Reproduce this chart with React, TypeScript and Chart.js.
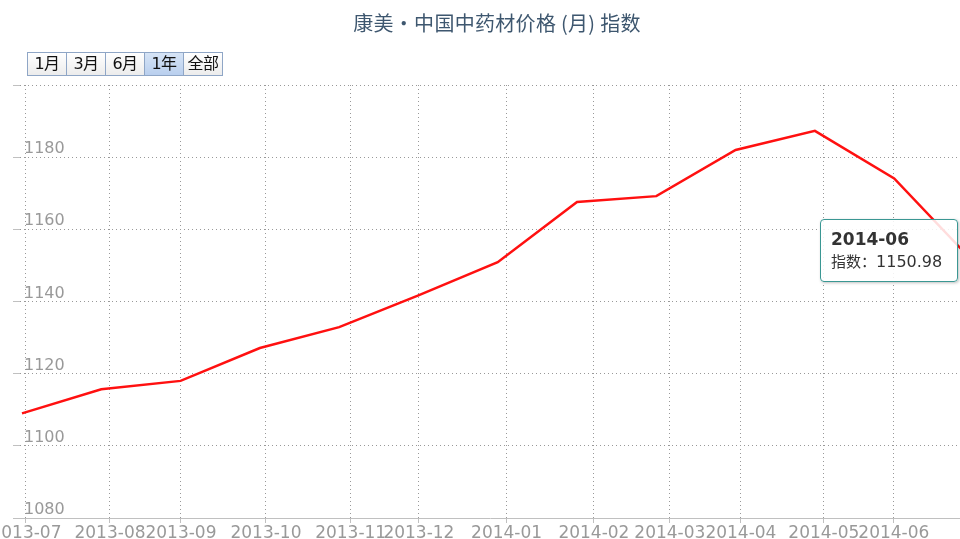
import React, { useEffect, useRef } from 'react';
import { Chart, registerables } from 'chart.js';

Chart.register(...registerables);

// ---- data ----
const title = '康美·中国中药材价格 (月) 指数';
const seriesName = '指数';
const pointIndex = [0, 1, 2, 3, 4, 5, 6, 7, 8, 9, 10, 11, 12];
const indexValues = [1109.0, 1115.7, 1118.0, 1127.1, 1132.9, 1141.7, 1150.9, 1167.6, 1169.2, 1182.0, 1187.3, 1174.1, 1150.98];
const monthTickPositions = [0.05, 1.11, 2.005, 3.077, 4.145, 5.006, 6.112, 7.213, 8.171, 9.067, 10.113, 10.996];
const monthTickLabels = ['2013-07', '2013-08', '2013-09', '2013-10', '2013-11', '2013-12', '2014-01', '2014-02', '2014-03', '2014-04', '2014-05', '2014-06'];
const yTicks = [1080, 1100, 1120, 1140, 1160, 1180, 1200];
const rangeButtons = ['1月', '3月', '6月', '1年', '全部'];
const selectedRange = '1年';
const tooltipDate = '2014-06';
const tooltipValue = '1150.98';

export default function App() {
  const canvasRef = useRef<HTMLCanvasElement | null>(null);

  useEffect(() => {
    document.body.style.margin = '0';
    const canvas = canvasRef.current;
    if (!canvas) return;
    const chart = new Chart(canvas, {
      type: 'line',
      data: {
        datasets: [
          {
            label: seriesName,
            data: pointIndex.map((x, i) => ({ x, y: indexValues[i] })),
            borderColor: '#ff1010',
            borderWidth: 2.5,
            pointRadius: 0,
            tension: 0,
            fill: false,
          },
        ],
      },
      options: {
        animation: false,
        responsive: false,
        events: [],
        layout: { padding: { top: 85, left: 13, right: 0, bottom: 0 } },
        plugins: {
          legend: { display: false },
          tooltip: { enabled: false },
          title: { display: false },
        },
        scales: {
          x: {
            type: 'linear',
            min: -0.025,
            max: 11.83,
            afterBuildTicks: (scale: any) => {
              scale.ticks = monthTickPositions.map((v) => ({ value: v }));
            },
            afterFit: (scale: any) => {
              scale.height = 21;
              scale.paddingLeft = 0;
              scale.paddingRight = 0;
            },
            grid: {
              color: '#999999',
              lineWidth: 1,
              tickLength: 5,
              tickColor: '#c0c0c0',
              tickBorderDash: [],
              drawTicks: true,
            },
            border: { display: true, color: '#c0c0c0', width: 1, dash: [1, 3] },
            ticks: {
              autoSkip: false,
              maxRotation: 0,
              minRotation: 0,
              padding: 0,
              color: '#999999',
              font: { family: 'DejaVu Sans', size: 17 },
              callback: (_v: any, i: number) => monthTickLabels[i],
            },
          },
          y: {
            type: 'linear',
            min: yTicks[0],
            max: yTicks[yTicks.length - 1],
            afterBuildTicks: (scale: any) => {
              scale.ticks = yTicks.map((v) => ({ value: v }));
            },
            afterFit: (scale: any) => {
              scale.width = 7;
              scale.paddingTop = 0;
              scale.paddingBottom = 0;
            },
            grid: {
              color: '#999999',
              lineWidth: 1,
              tickLength: 7,
              tickColor: '#c0c0c0',
              tickBorderDash: [],
            },
            border: { display: false, dash: [1, 3] },
            ticks: {
              mirror: true,
              padding: 4,
              labelOffset: -8,
              color: '#999999',
              font: { family: 'DejaVu Sans', size: 16 },
              callback: (v: any) => (v === yTicks[yTicks.length - 1] ? '' : String(v)),
            },
          },
        },
      },
    });
    return () => chart.destroy();
  }, []);

  return (
    <div style={{ position: 'absolute', left: 0, top: 0, width: 960, height: 539, overflow: 'hidden', background: '#fff' }}>
      <canvas ref={canvasRef} width={960} height={539} style={{ position: 'absolute', left: 0, top: 0, width: 960, height: 539 }} />
      <div
        style={{
          position: 'absolute',
          left: 0,
          top: 11,
          width: 994,
          textAlign: 'center',
          fontFamily: '"Noto Sans CJK SC", "DejaVu Sans", sans-serif',
          fontSize: 20,
          lineHeight: '24px',
          color: '#3E576F',
          whiteSpace: 'nowrap',
          letterSpacing: '0.3px',
        }}
      >
        {title}
      </div>
      <div style={{ position: 'absolute', left: 27, top: 52, display: 'flex', height: 24 }}>
        {rangeButtons.map((b, i) => (
          <div
            key={b}
            style={{
              boxSizing: 'border-box',
              width: 40,
              marginLeft: i === 0 ? 0 : -1,
              height: 24,
              border: '1px solid #8fa6c6',
              background: b === selectedRange ? 'linear-gradient(#d6e4f6, #b9cfee)' : 'linear-gradient(#ffffff, #ececec)',
              fontFamily: '"DejaVu Sans", "Noto Sans CJK SC", sans-serif',
              fontSize: 16,
              lineHeight: '22px',
              textAlign: 'center',
              color: '#111',
              whiteSpace: 'nowrap',
              letterSpacing: '-0.5px',
            }}
          >
            {b}
          </div>
        ))}
      </div>
      <div
        style={{
          position: 'absolute',
          left: 820,
          top: 219,
          width: 138,
          height: 63,
          boxSizing: 'border-box',
          border: '1.5px solid #3a9793',
          borderRadius: 4,
          background: 'rgba(255,255,255,0.86)',
          boxShadow: '1px 1px 3px rgba(0,0,0,0.25)',
          padding: '8px 0 0 10px',
          color: '#333',
          whiteSpace: 'nowrap',
        }}
      >
        <div style={{ fontFamily: '"DejaVu Sans", sans-serif', fontWeight: 'bold', fontSize: 17, lineHeight: '22px' }}>{tooltipDate}</div>
        <div style={{ fontFamily: '"DejaVu Sans", "Noto Sans CJK SC", sans-serif', fontSize: 16, lineHeight: '22px' }}>
          <span style={{ fontFamily: '"Noto Sans CJK SC", sans-serif', fontSize: 15 }}>{seriesName}：</span>
          {tooltipValue}
        </div>
      </div>
    </div>
  );
}
